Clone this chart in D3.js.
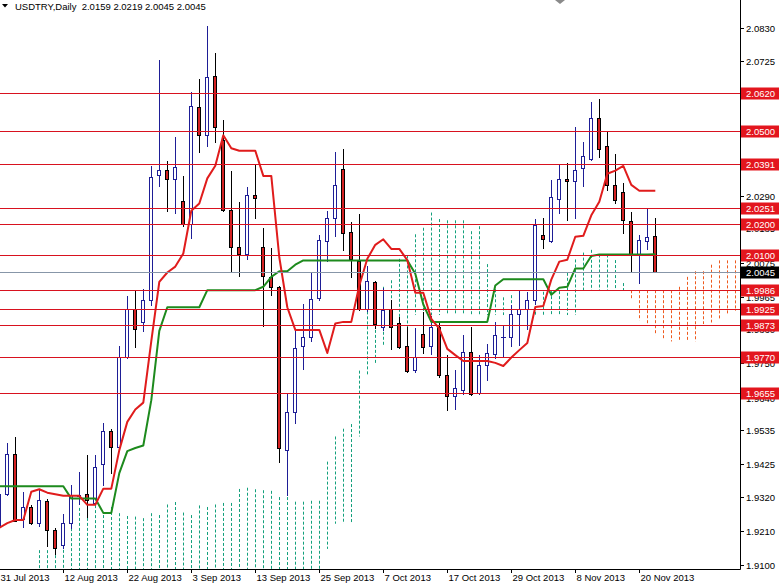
<!DOCTYPE html>
<html><head><meta charset="utf-8">
<script src="https://cdn.jsdelivr.net/npm/d3@7"></script>
<style>
html,body{margin:0;padding:0;background:#fff;}
svg{display:block;font-family:"Liberation Sans",Arial,sans-serif;}
</style></head><body>
<svg id="chart" width="779" height="586"></svg>
<script>
// ---------------- data ----------------
const symbolTitle = "USDTRY,Daily";
const lastQuote = ["2.0159", "2.0219", "2.0045", "2.0045"];
const dateLabels = ["31 Jul 2013","12 Aug 2013","22 Aug 2013","3 Sep 2013","13 Sep 2013",
  "25 Sep 2013","7 Oct 2013","17 Oct 2013","29 Oct 2013","8 Nov 2013","20 Nov 2013"];
const barsPerDateLabel = 8;

const open = [1.9223,1.9330,1.9457,1.9248,1.9289,1.9236,1.9307,1.9214,1.9166,1.9235,
 1.9323,1.9330,1.9301,1.9425,1.9534,1.9482,1.9771,1.9927,1.9884,1.9954,
 2.0357,2.0373,2.0344,2.0272,2.0198,2.0575,2.0487,2.0676,2.0470,2.0244,
 2.0126,2.0103,2.0291,2.0126,2.0028,1.9995,1.9473,1.9593,1.9806,1.9835,
 1.9962,2.0146,2.0218,2.0376,2.0172,2.0081,1.9924,2.0013,1.9869,1.9925,
 1.9880,1.9806,1.9730,1.9844,1.9805,1.9868,1.9712,1.9644,1.9665,1.9788,
 1.9655,1.9744,1.9781,1.9834,1.9834,1.9908,1.9926,1.9953,2.0163,2.0145,
 2.0280,2.0343,2.0338,2.0379,2.0407,2.0540,2.0450,2.0326,2.0301,2.0210,
 2.0100,2.0145,2.0159];
const high = [1.9343,1.9494,1.9513,1.9336,1.9294,1.9343,1.9314,1.9220,1.9264,1.9359,
 1.9401,1.9455,1.9455,1.9558,1.9539,1.9806,1.9967,1.9983,1.9990,2.0387,
 2.0727,2.0402,2.0479,2.0355,2.0623,2.0665,2.0837,2.0750,2.0534,2.0370,
 2.0270,2.0318,2.0389,2.0185,2.0121,1.9999,1.9652,1.9859,1.9942,2.0042,
 2.0164,2.0241,2.0431,2.0441,2.0206,2.0231,2.0064,2.0017,1.9993,1.9954,
 1.9901,1.9867,1.9864,1.9915,1.9903,1.9880,1.9777,1.9729,1.9842,1.9869,
 1.9777,1.9814,1.9884,1.9871,1.9938,1.9983,1.9981,2.0215,2.0218,2.0342,
 2.0388,2.0394,2.0511,2.0464,2.0592,2.0601,2.0499,2.0425,2.0331,2.0238,
 2.0165,2.0249,2.0219];
const low = [1.9214,1.9327,1.9243,1.9223,1.9233,1.9227,1.9162,1.9135,1.9156,1.9220,
 1.9298,1.9257,1.9298,1.9359,1.9396,1.9481,1.9768,1.9803,1.9855,1.9937,
 2.0323,2.0241,2.0235,2.0193,2.0154,2.0431,2.0449,2.0463,2.0241,2.0048,
 2.0032,2.0085,2.0218,1.9870,1.9972,1.9434,1.9327,1.9560,1.9732,1.9822,
 1.9956,2.0080,2.0160,2.0115,2.0028,1.9921,1.9919,1.9863,1.9858,1.9797,
 1.9799,1.9724,1.9724,1.9785,1.9782,1.9706,1.9600,1.9603,1.9652,1.9649,
 1.9652,1.9697,1.9768,1.9774,1.9805,1.9810,1.9862,1.9940,2.0121,2.0141,
 2.0236,2.0211,2.0218,2.0321,2.0404,2.0416,2.0309,2.0267,2.0170,2.0048,
 2.0010,2.0118,2.0045];
const close = [1.9330,1.9457,1.9244,1.9289,1.9236,1.9310,1.9214,1.9155,1.9235,1.9328,
 1.9328,1.9312,1.9418,1.9534,1.9482,1.9771,1.9927,1.9861,1.9954,2.0349,
 2.0373,2.0344,2.0382,2.0198,2.0578,2.0487,2.0672,2.0510,2.0244,2.0124,
 2.0102,2.0292,2.0283,2.0031,1.9995,1.9477,1.9593,1.9799,1.9835,1.9959,
 2.0148,2.0220,2.0324,2.0170,2.0085,1.9924,2.0016,1.9878,1.9922,1.9867,
 1.9804,1.9727,1.9772,1.9802,1.9869,1.9713,1.9644,1.9670,1.9786,1.9652,
 1.9744,1.9785,1.9842,1.9834,1.9908,1.9927,1.9954,2.0195,2.0150,2.0286,
 2.0343,2.0336,2.0373,2.0419,2.0540,2.0440,2.0326,2.0278,2.0211,2.0100,
 2.0147,2.0157,2.0045];

const tenkan = [1.9221,1.9236,1.9246,1.9246,1.9337,1.9345,1.9334,1.9329,1.9324,1.9324,
 1.9324,1.9295,1.9295,1.9347,1.9347,1.9471,1.9562,1.9602,1.9624,1.9822,
 2.0013,2.0043,2.0062,2.0104,2.0242,2.0265,2.0346,2.0387,2.0485,2.0443,
 2.0435,2.0435,2.0435,2.0354,2.0354,2.0092,1.9931,1.9858,1.9858,1.9858,
 1.9858,1.9784,1.9879,1.9884,1.9884,2.0001,2.0087,2.0132,2.0150,2.0119,
 2.0119,2.0083,1.9978,1.9978,1.9894,1.9862,1.9797,1.9777,1.9758,1.9758,
 1.9758,1.9758,1.9752,1.9742,1.9769,1.9793,1.9816,1.9932,1.9935,2.0020,
 2.0078,2.0084,2.0158,2.0161,2.0227,2.0271,2.0361,2.0371,2.0386,2.0325,
 2.0306,2.0306,2.0306];
const kijun = [1.9355,1.9355,1.9355,1.9355,1.9355,1.9355,1.9355,1.9355,1.9355,1.9315,
 1.9315,1.9315,1.9315,1.9269,1.9269,1.9397,1.9468,1.9478,1.9486,1.9632,
 1.9855,1.9931,1.9931,1.9931,1.9931,1.9931,1.9986,1.9986,1.9986,1.9986,
 1.9986,1.9986,1.9986,1.9997,2.0029,2.0047,2.0047,2.0068,2.0082,2.0082,
 2.0082,2.0082,2.0082,2.0082,2.0082,2.0082,2.0082,2.0082,2.0082,2.0082,
 2.0082,2.0082,2.0039,1.9940,1.9884,1.9884,1.9884,1.9884,1.9884,1.9884,
 1.9884,1.9884,2.0001,2.0021,2.0021,2.0021,2.0021,2.0021,2.0021,1.9971,
 1.9994,1.9997,2.0056,2.0056,2.0096,2.0101,2.0101,2.0101,2.0101,2.0101,
 2.0101,2.0101,2.0102];

// cloud (senkou span A / B), first value belongs to bar index cloudStart
const cloudStart = 5;
const spanA = [1.9149,1.9149,1.9149,1.9166,1.9220,1.9285,1.9285,1.9294,1.9262,1.9288,
 1.9268,1.9259,1.9257,1.9252,1.9268,1.9262,1.9296,1.9304,1.9270,1.9262,
 1.9293,1.9288,1.9296,1.9301,1.9301,1.9346,1.9350,1.9345,1.9342,1.9340,
 1.9320,1.9320,1.9305,1.9305,1.9308,1.9308,1.9434,1.9515,1.9540,1.9555,
 1.9727,1.9934,1.9987,1.9997,2.0018,2.0087,2.0098,2.0166,2.0187,2.0236,
 2.0215,2.0211,2.0211,2.0211,2.0176,2.0192,2.0070,1.9989,1.9963,1.9970,
 1.9970,1.9970,1.9933,1.9981,1.9983,1.9983,2.0042,2.0085,2.0107,2.0116,
 2.0101,2.0101,2.0083,2.0009,1.9955,1.9889,1.9873,1.9841,1.9831,1.9821,
 1.9821,1.9821,1.9821,1.9877,1.9882,1.9895,1.9907,1.9919];
const spanB = [1.9000,1.9000,1.9000,1.9000,1.9000,1.9000,1.9000,1.9000,1.9000,1.9000,
 1.9000,1.9000,1.9000,1.9000,1.9000,1.9000,1.9000,1.9000,1.9000,1.9000,
 1.9000,1.9000,1.9000,1.9000,1.9000,1.9000,1.9000,1.9000,1.9000,1.9000,
 1.9000,1.9000,1.9000,1.9000,1.9000,1.9000,1.9153,1.9234,1.9234,1.9236,
 1.9515,1.9715,1.9750,1.9810,1.9826,1.9851,1.9858,1.9906,1.9906,1.9906,
 1.9906,1.9906,1.9906,1.9906,1.9906,1.9906,1.9906,1.9906,1.9906,1.9906,
 1.9906,1.9906,1.9906,1.9906,1.9906,1.9906,1.9906,1.9906,1.9986,1.9986,
 1.9986,1.9986,1.9986,1.9986,1.9986,1.9986,1.9986,1.9986,1.9986,1.9986,
 1.9997,2.0029,2.0047,2.0047,2.0068,2.0082,2.0082,2.0082];

const levels = [2.0620,2.0500,2.0391,2.0251,2.0200,2.0100,1.9986,1.9925,1.9873,1.9770,1.9655];
const currentPrice = 2.0045;
// axis labels that are visible (fully or partly) next to the level boxes
const priceTicks = [2.0830,2.0725,2.0290,2.0185,2.0075,1.9965,
 1.9860,1.9750,1.9640,1.9535,1.9425,1.9320,1.9210,1.9100];

// ---------------- drawing ----------------
const W = 779, H = 586, plotR = 740, plotB = 569;
const svg = d3.select("#chart");
const y = d3.scaleLinear().domain([1.90883, 2.09204]).range([plotB, 0]);
const lastIndex = cloudStart + spanA.length - 1;
const x = d3.scaleLinear().domain([0, lastIndex]).range([-0.7, -0.7 + 8 * lastIndex]);
const crisp = v => Math.round(v) + 0.5;
const FS = 9.5;

svg.append("rect").attr("width", W).attr("height", H).attr("fill", "#fff");
svg.append("defs").append("clipPath").attr("id", "plot")
  .append("rect").attr("x", 0).attr("y", 0).attr("width", plotR).attr("height", plotB);
const g = svg.append("g").attr("clip-path", "url(#plot)");

// cloud as dotted vertical lines
const cloud = spanA.map((a, k) => ({ i: k + cloudStart, a, b: spanB[k] }));
g.append("g").selectAll("line").data(cloud).join("line")
  .attr("x1", d => crisp(x(d.i))).attr("x2", d => crisp(x(d.i)))
  .attr("y1", d => y(Math.max(d.a, d.b))).attr("y2", d => y(Math.min(d.a, d.b)))
  .attr("stroke", d => d.a >= d.b ? "#13a07c" : "#ee5a1e")
  .attr("stroke-width", 1).attr("stroke-dasharray", "3,2");

// candles
const bars = open.map((o, i) => ({ i, o, h: high[i], l: low[i], c: close[i] }));
const cg = g.append("g");
const bullCol = "#1e1e96", bearFill = "#d42222";
bars.forEach(d => {
  const bull = d.c >= d.o;
  const cx = Math.round(x(d.i));
  cg.append("line").attr("x1", cx + 0.5).attr("x2", cx + 0.5)
    .attr("y1", Math.round(y(d.h))).attr("y2", Math.round(y(d.l)) + 1)
    .attr("stroke", bull ? bullCol : "#000").attr("stroke-width", 1);
  const top = Math.round(y(Math.max(d.o, d.c))), bot = Math.round(y(Math.min(d.o, d.c)));
  if (bot - top < 1) {
    cg.append("line").attr("x1", cx - 2).attr("x2", cx + 3)
      .attr("y1", top + 0.5).attr("y2", top + 0.5).attr("stroke", bullCol);
  } else {
    cg.append("rect").attr("x", cx - 1.5).attr("y", top + 0.5)
      .attr("width", 3).attr("height", bot - top)
      .attr("fill", bull ? "#fff" : bearFill)
      .attr("stroke", bull ? bullCol : "#000").attr("stroke-width", 1);
  }
});

// ichimoku lines
const line = d3.line().x((d, i) => x(i)).y(d => y(d));
g.append("path").datum(kijun).attr("d", line).attr("fill", "none")
  .attr("stroke", "#1d8a1d").attr("stroke-width", 2).attr("stroke-linejoin", "round");
g.append("path").datum(tenkan).attr("d", line).attr("fill", "none")
  .attr("stroke", "#e01c1c").attr("stroke-width", 2).attr("stroke-linejoin", "round");

// horizontal levels
g.append("g").selectAll("line").data(levels).join("line")
  .attr("x1", 0).attr("x2", plotR)
  .attr("y1", d => crisp(y(d))).attr("y2", d => crisp(y(d)))
  .attr("stroke", "#d8121f").attr("stroke-width", 1);
g.append("line").attr("x1", 0).attr("x2", plotR)
  .attr("y1", crisp(y(currentPrice))).attr("y2", crisp(y(currentPrice)))
  .attr("stroke", "#8796a8").attr("stroke-width", 1);

// small gray marker at top
g.append("path").attr("d", "M555,0 L560,4 L565,0 L560,-4 Z").attr("fill", "#8a8a8a");

// header
svg.append("path").attr("d", "M2,4 L8,4 L5,7.5 Z").attr("fill", "#000");
svg.append("text").attr("x", 15).attr("y", 9.5).attr("font-size", FS).attr("fill", "#000")
  .attr("xml:space", "preserve")
  .text(symbolTitle + "  " + lastQuote.join(" "));

// axes lines
svg.append("line").attr("x1", plotR + 0.5).attr("x2", plotR + 0.5).attr("y1", 0).attr("y2", plotB + 0.5)
  .attr("stroke", "#000");
svg.append("line").attr("x1", 0).attr("x2", plotR + 0.5).attr("y1", plotB + 0.5).attr("y2", plotB + 0.5)
  .attr("stroke", "#000");

// price ticks
const pt = svg.append("g");
priceTicks.forEach(v => {
  const yy = crisp(y(v));
  pt.append("line").attr("x1", plotR + 1).attr("x2", plotR + 4).attr("y1", yy).attr("y2", yy).attr("stroke", "#000");
  pt.append("text").attr("x", 746).attr("y", yy + 3.5).attr("font-size", FS).attr("fill", "#000")
    .text(v.toFixed(4));
});

// level labels
const lbl = svg.append("g");
levels.forEach(v => {
  const yy = crisp(y(v));
  lbl.append("rect").attr("x", 741).attr("y", yy - 6).attr("width", 38).attr("height", 12).attr("fill", "#e3161e");
  lbl.append("text").attr("x", 746).attr("y", yy + 3.5).attr("font-size", FS).attr("fill", "#fff").text(v.toFixed(4));
});
{
  const yy = crisp(y(currentPrice));
  lbl.append("rect").attr("x", 741).attr("y", yy - 6).attr("width", 38).attr("height", 12).attr("fill", "#000");
  lbl.append("text").attr("x", 746).attr("y", yy + 3.5).attr("font-size", FS).attr("fill", "#fff").text(currentPrice.toFixed(4));
}

// date axis
const dt = svg.append("g");
dateLabels.forEach((s, k) => {
  const xx = Math.round(x(k * barsPerDateLabel)) + 0.5;
  dt.append("line").attr("x1", xx).attr("x2", xx).attr("y1", plotB).attr("y2", plotB + 4).attr("stroke", "#000");
  dt.append("text").attr("x", xx + 1).attr("y", 581).attr("font-size", FS).attr("fill", "#000").text(s);
});
</script>
</body></html>
